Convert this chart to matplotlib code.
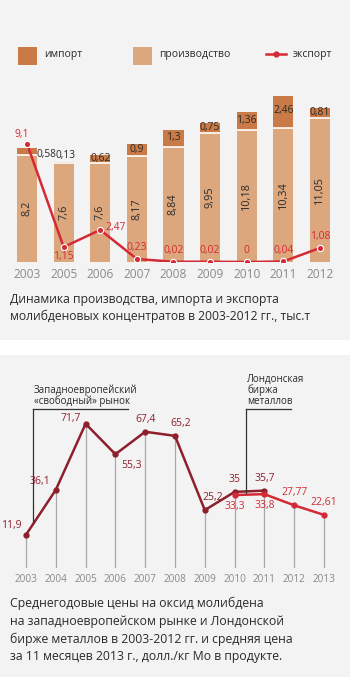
import matplotlib.pyplot as plt
from matplotlib.patches import Rectangle

plt.rcParams['font.family'] = ['Open Sans', 'DejaVu Sans']

# --- данные: верхний график ---
years_top = ['2003', '2005', '2006', '2007', '2008', '2009', '2010', '2011', '2012']
proizv = [8.2, 7.6, 7.6, 8.17, 8.84, 9.95, 10.18, 10.34, 11.05]
import_ = [0.58, 0.13, 0.62, 0.9, 1.3, 0.75, 1.36, 2.46, 0.81]
export = [9.1, 1.15, 2.47, 0.23, 0.02, 0.02, 0, 0.04, 1.08]
export_lbl = ['9,1', '1,15', '2,47', '0,23', '0,02', '0,02', '0', '0,04', '1,08']

# --- данные: нижний график ---
years_bot = ['2003', '2004', '2005', '2006', '2007', '2008', '2009', '2010', '2011', '2012', '2013']
west_eu = [11.9, 36.1, 71.7, 55.3, 67.4, 65.2, 25.2, 35, 35.7]
west_lbl = ['11,9', '36,1', '71,7', '55,3', '67,4', '65,2', '25,2', '35', '35,7']
lme = [33.3, 33.8, 27.77, 22.61]
lme_lbl = ['33,3', '33,8', '27,77', '22,61']

W, H = 350, 677
c_imp = '#c97a46'
c_prod = '#dda77e'
c_red = '#d42a35'
c_dark = '#8e1f2c'
c_txt = '#2a2a2a'
c_year = '#8a8a8a'

fig = plt.figure(figsize=(W / 100, H / 100), dpi=100)
fig.patch.set_facecolor('white')


def fy(y):
    # пиксели сверху -> доля фигуры снизу
    return (H - y) / H


# фоновые панели
fig.patches.append(Rectangle((0, fy(340)), 1, 340 / H, transform=fig.transFigure,
                             facecolor='#f3f3f3', edgecolor='none', zorder=-10))
fig.patches.append(Rectangle((0, 0), 1, fy(355), transform=fig.transFigure,
                             facecolor='#f3f3f3', edgecolor='none', zorder=-10))

# ---------------- верхний график ----------------
ax = fig.add_axes([0, fy(262), 1, 182 / H])
ax.set_facecolor('none')
n = len(years_top)
xs = list(range(n))
bw = 0.55
ax.bar(xs, proizv, width=bw, color=c_prod, zorder=2)
ax.bar(xs, import_, bottom=proizv, width=bw, color=c_imp, zorder=2)
ax.hlines(proizv, [x - bw / 2 for x in xs], [x + bw / 2 for x in xs], color='white', lw=1.2, zorder=3)

for i in xs:
    ax.text(i, proizv[i] / 2, str(proizv[i]).replace('.', ','), rotation=90,
            ha='center', va='center', fontsize=7.8, color=c_txt, zorder=4)
    lbl = str(import_[i]).replace('.', ',')
    top = proizv[i] + import_[i]
    if i == 0:
        ax.text(i + 0.27, top - 0.05, lbl, ha='left', va='top', fontsize=7.3, color=c_txt, zorder=4)
    elif i == 1:
        ax.text(i + 0.04, top + 0.02, lbl, ha='center', va='bottom', fontsize=7.3, color=c_txt, zorder=4)
    else:
        ax.text(i, proizv[i] + import_[i] / 2 + 0.05, lbl, ha='center', va='center',
                fontsize=7.5, color=c_txt, zorder=4)

ax.plot(xs, export, color=c_red, lw=1.8, marker='o', ms=4.5, mfc=c_red,
        mec='white', mew=0.8, zorder=5)
offs = [(-4, 3), (0, -3), (4, 2), (0, 4), (0, 4), (0, 4), (0, 4), (0, 4), (0, 4)]
has = ['center', 'center', 'left', 'center', 'center', 'center', 'center', 'center', 'center']
vas = ['bottom', 'top', 'center', 'bottom', 'bottom', 'bottom', 'bottom', 'bottom', 'bottom']
for i in xs:
    ax.annotate(export_lbl[i], (i, export[i]), xytext=offs[i], textcoords='offset points',
                ha=has[i], va=vas[i], fontsize=7.5, color=c_red, zorder=6)

ax.set_xlim(-27 / 36.6, 8 + 30 / 36.6)
ax.set_ylim(0, 14)
ax.set_xticks(xs)
ax.set_xticklabels(years_top, fontsize=8.6, color=c_year)
ax.tick_params(axis='x', length=0, pad=4)
ax.set_yticks([])
for s in ax.spines.values():
    s.set_visible(False)

# легенда
def sq(x, color):
    fig.patches.append(Rectangle((x / W, fy(65)), 19 / W, 18 / H, transform=fig.transFigure,
                                 facecolor=color, edgecolor='none', zorder=2))

sq(18, c_imp)
fig.text(44 / W, fy(55), 'импорт', fontsize=7.5, color=c_txt, va='center')
sq(133, c_prod)
fig.text(159 / W, fy(55), 'производство', fontsize=7.5, color=c_txt, va='center')
fig.add_artist(plt.Line2D([266 / W, 286 / W], [fy(54), fy(54)], color=c_red, lw=1.8))
fig.add_artist(plt.Line2D([276 / W], [fy(54)], color=c_red, marker='o', ms=3.5, lw=0))
fig.text(293 / W, fy(54), 'экспорт', fontsize=7.5, color=c_txt, va='center')

fig.text(10 / W, fy(308), 'Динамика производства, импорта и экспорта\n'
         'молибденовых концентратов в 2003-2012 гг., тыс.т',
         fontsize=8.7, color=c_txt, va='center', linespacing=1.4)

# ---------------- нижний график ----------------
ppu = 1.856
ax2 = fig.add_axes([0, fy(568), 1, 86 * ppu / H])
ax2.set_facecolor('none')
xb = list(range(len(years_bot)))
tops = west_eu[:7] + [max(west_eu[7], lme[0]), max(west_eu[8], lme[1])] + lme[2:]
ax2.vlines(xb, -6, tops, color='#a8a8a8', lw=0.9, zorder=1)

xw = xb[:len(west_eu)]
xl = xb[7:]
ax2.plot(xw, west_eu, color=c_dark, lw=1.8, marker='o', ms=3.5, zorder=3)
ax2.plot(xl, lme, color=c_red, lw=1.8, marker='o', ms=3.5, zorder=3)

w_off = [(-3, 3), (-4, 2), (-3, 0), (4, -4), (0, 5), (4, 5), (6, 5), (0, 5), (0, 5)]
w_ha = ['right', 'right', 'right', 'left', 'center', 'center', 'center', 'center', 'center']
w_va = ['bottom', 'bottom', 'bottom', 'top', 'bottom', 'bottom', 'bottom', 'bottom', 'bottom']
for i, v in enumerate(west_eu):
    ax2.annotate(west_lbl[i], (xw[i], v), xytext=w_off[i], textcoords='offset points',
                 ha=w_ha[i], va=w_va[i], fontsize=7.5, color=c_dark)
l_off = [(0, -4), (0, -4), (0, 5), (0, 5)]
l_va = ['top', 'top', 'bottom', 'bottom']
for i, v in enumerate(lme):
    ax2.annotate(lme_lbl[i], (xl[i], v), xytext=l_off[i], textcoords='offset points',
                 ha='center', va=l_va[i], fontsize=7.5, color=c_red)

ax2.set_xlim(-26 / 29.8, 10 + 26 / 29.8)
ax2.set_ylim(-6, 80)
ax2.set_xticks(xb)
ax2.set_xticklabels(years_bot, fontsize=7.2, color=c_year)
ax2.tick_params(axis='x', length=0, pad=4)
ax2.set_yticks([])
for s in ax2.spines.values():
    s.set_visible(False)

# выноски
fig.add_artist(plt.Line2D([33 / W, 128 / W], [fy(409), fy(409)], color='#333333', lw=0.9))
fig.add_artist(plt.Line2D([33 / W, 33 / W], [fy(409), fy(522)], color='#333333', lw=0.9))
fig.text(34 / W, fy(407), 'Западноевропейский\n«свободный» рынок', fontsize=7,
         color=c_txt, va='bottom', linespacing=0.95)
fig.add_artist(plt.Line2D([246 / W, 291 / W], [fy(409), fy(409)], color='#333333', lw=0.9))
fig.add_artist(plt.Line2D([246 / W, 246 / W], [fy(409), fy(493)], color='#333333', lw=0.9))
fig.text(247 / W, fy(407), 'Лондонская\nбиржа\nметаллов', fontsize=7,
         color=c_txt, va='bottom', linespacing=0.95)

fig.text(10 / W, fy(630), 'Среднегодовые цены на оксид молибдена\n'
         'на западноевропейском рынке и Лондонской\n'
         'бирже металлов в 2003-2012 гг. и средняя цена\n'
         'за 11 месяцев 2013 г., долл./кг Мо в продукте.',
         fontsize=8.8, color=c_txt, va='center', linespacing=1.45)

fig.savefig('out.png', dpi=100, facecolor=fig.get_facecolor())
